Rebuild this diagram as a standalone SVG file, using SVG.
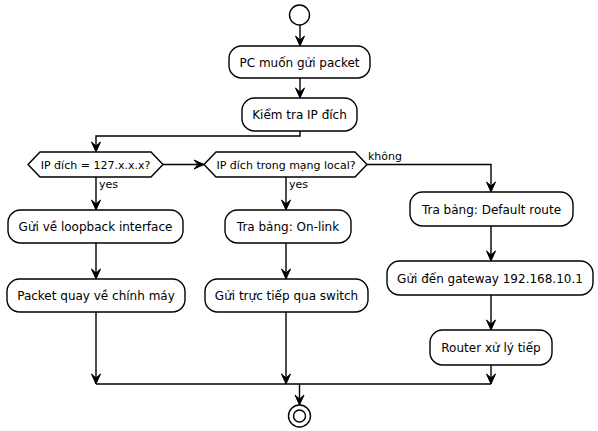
<svg xmlns="http://www.w3.org/2000/svg" width="598" height="431" viewBox="0 0 598 431">
<style>
.box{fill:#fff;stroke:#000;stroke-width:1.4}
.t{font-family:"DejaVu Sans",sans-serif;font-size:12px;fill:#000;text-anchor:middle}
.td{font-family:"DejaVu Sans",sans-serif;font-size:11px;fill:#000;text-anchor:middle}
.l{font-family:"DejaVu Sans",sans-serif;font-size:11px;fill:#000}
.c{fill:none;stroke:#000;stroke-width:1.4}
.ah{fill:#000;stroke:#000;stroke-width:1}
</style>
<defs>
<polygon id="ad" class="ah" points="-4.5,-10 0,0 4.5,-10 0,-6"/>
<polygon id="ar" class="ah" points="-10,-4.5 0,0 -10,4.5 -6,0"/>
</defs>
<rect width="598" height="431" fill="#fff"/>
<g id="connectors">
<path class="c" d="M300,25 V46"/><use href="#ad" x="300" y="46"/>
<path class="c" d="M300,78 V98"/><use href="#ad" x="300" y="98"/>
<path class="c" d="M300,131 V136 H96 V152"/><use href="#ad" x="96" y="152"/>
<path class="c" d="M163,164.5 H204"/><use href="#ar" x="204" y="164.5"/>
<path class="c" d="M96,177 V210"/><use href="#ad" x="96" y="210"/>
<path class="c" d="M96,243 V279"/><use href="#ad" x="96" y="279"/>
<path class="c" d="M96,312 V384"/><use href="#ad" x="96" y="384"/>
<path class="c" d="M286,177 V210"/><use href="#ad" x="286" y="210"/>
<path class="c" d="M286,243 V279"/><use href="#ad" x="286" y="279"/>
<path class="c" d="M286,312 V384"/><use href="#ad" x="286" y="384"/>
<path class="c" d="M367,164.5 H491 V192"/><use href="#ad" x="491" y="192"/>
<path class="c" d="M491,226 V261"/><use href="#ad" x="491" y="261"/>
<path class="c" d="M491,295 V330"/><use href="#ad" x="491" y="330"/>
<path class="c" d="M491,365 V384"/><use href="#ad" x="491" y="384"/>
<path class="c" d="M96,384 H491"/>
<path class="c" d="M299.5,384 V405"/><use href="#ad" x="299.5" y="405"/>
<text class="l" x="99" y="188">yes</text>
<text class="l" x="289" y="188">yes</text>
<text class="l" x="368" y="160">không</text>
</g>
<g id="start"><circle cx="299.5" cy="15" r="10" fill="#fff" stroke="#000" stroke-width="1.4"/></g>
<g id="n1"><rect class="box" x="229" y="46" width="141" height="32" rx="12.5"/><text class="t" x="299.5" y="66.5">PC muốn gửi packet</text></g>
<g id="n2"><rect class="box" x="242" y="98" width="115" height="33" rx="12.5"/><text class="t" x="299.5" y="119">Kiểm tra IP đích</text></g>
<g id="d1"><polygon class="box" points="28,164.5 40,152 151,152 163,164.5 151,177 40,177"/><text class="td" x="95.5" y="168.5">IP đích = 127.x.x.x?</text></g>
<g id="d2"><polygon class="box" points="204,164.5 216,152 355,152 367,164.5 355,177 216,177"/><text class="td" x="286" y="168.5">IP đích trong mạng local?</text></g>
<g id="n3"><rect class="box" x="8" y="210" width="175" height="33" rx="12.5"/><text class="t" x="95.5" y="231">Gửi về loopback interface</text></g>
<g id="n4"><rect class="box" x="7" y="279" width="178" height="33" rx="12.5"/><text class="t" x="96" y="300">Packet quay về chính máy</text></g>
<g id="n5"><rect class="box" x="225" y="210" width="126" height="33" rx="12.5"/><text class="t" x="288" y="231">Tra bảng: On-link</text></g>
<g id="n6"><rect class="box" x="205" y="279" width="163" height="33" rx="12.5"/><text class="t" x="286.5" y="300">Gửi trực tiếp qua switch</text></g>
<g id="n7"><rect class="box" x="410" y="192" width="163" height="34" rx="12.5"/><text class="t" x="491.5" y="213.5">Tra bảng: Default route</text></g>
<g id="n8"><rect class="box" x="387" y="261" width="206" height="34" rx="12.5"/><text class="t" x="490" y="282.5">Gửi đến gateway 192.168.10.1</text></g>
<g id="n9"><rect class="box" x="430" y="330" width="122" height="35" rx="12.5"/><text class="t" x="491" y="352">Router xử lý tiếp</text></g>
<g id="end"><circle cx="299.5" cy="416" r="11" fill="#fff" stroke="#000" stroke-width="1.4"/><circle cx="299.5" cy="416" r="6" fill="#fff" stroke="#000" stroke-width="1.4"/></g>
</svg>
